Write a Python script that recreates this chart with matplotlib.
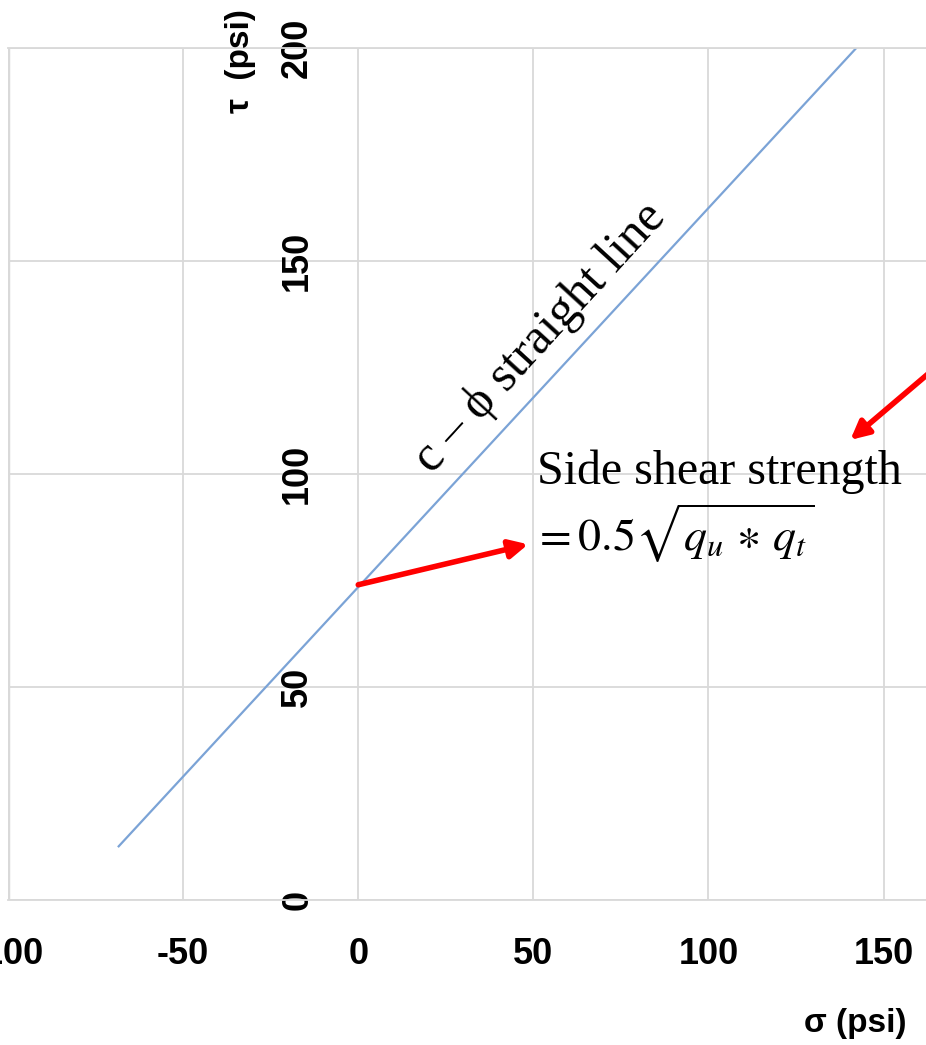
import matplotlib
matplotlib.use("Agg")
import matplotlib.pyplot as plt

# Mohr-Coulomb (c - phi) envelope endpoints
sigma = [-68.4, 142.2]
tau = [12.6, 200.0]

x_ticks = [-100, -50, 0, 50, 100, 150]
y_ticks = [0, 50, 100, 150, 200]

# arrow to the intercept label and arrow from the right
arrow1 = ((0.0, 74.0), (48.5, 83.5))
arrow2 = ((172.0, 130.0), (140.5, 108.0))

sans = ["Liberation Sans", "DejaVu Sans"]
serif = ["Liberation Serif", "DejaVu Serif"]
plt.rcParams["mathtext.fontset"] = "stix"

fig = plt.figure(figsize=(9.26, 10.45), dpi=100)
ax = fig.add_axes([8 / 926, 145 / 1045, 918 / 926, 852 / 1045])
ax.set_xlim(-99.4, 162.1)
ax.set_ylim(0, 200)

grid_c = "#d9d9d9"
ax.set_xticks(x_ticks)
ax.set_yticks(y_ticks)
ax.grid(True, color=grid_c, lw=1.3)
ax.set_axisbelow(True)
ax.spines["right"].set_visible(False)
for s in ["top", "bottom"]:
    ax.spines[s].set_color(grid_c)
    ax.spines[s].set_linewidth(1.3)
ax.spines["left"].set_position(("data", 0))
ax.spines["left"].set_visible(False)
ax.axvline(ax.get_xlim()[0], color=grid_c, lw=2.5)

ax.tick_params(axis="both", length=0)
ax.tick_params(axis="x", pad=27)
ax.tick_params(axis="y", pad=31)
ax.set_xticklabels([str(v) for v in x_ticks], family=sans, fontsize=26,
                   fontweight="bold")
ax.set_yticklabels([str(v) for v in y_ticks], family=sans, fontsize=26,
                   fontweight="bold", rotation=90, va="center")

ax.plot(sigma, tau, color="#7ba3d6", lw=1.6)

ax.text(-33.5, 197, "τ  (psi)", family=sans, fontsize=24, fontweight="bold",
        rotation=90, ha="center", va="center")
ax.text(142, -29, "σ (psi)", family=sans, fontsize=24, fontweight="bold",
        ha="center", va="center")

ax.text(52, 132, "c – ϕ straight line", family=serif, fontsize=36,
        rotation=47.5, rotation_mode="anchor", ha="center", va="center")
ax.text(51, 100.5, "Side shear strength", family=serif, fontsize=34.5,
        ha="left", va="center")
ax.text(50, 86, r"$= 0.5\sqrt{q_u\,\ast\,q_t}$", fontsize=33,
        ha="left", va="center")

for (x0, y0), (x1, y1) in [arrow1, arrow2]:
    ax.annotate("", xy=(x1, y1), xytext=(x0, y0), annotation_clip=False,
                arrowprops=dict(arrowstyle="-|>,head_length=1.1,head_width=0.55",
                                color="red", lw=4, shrinkA=0, shrinkB=0))

fig.savefig("out.png", dpi=100)
